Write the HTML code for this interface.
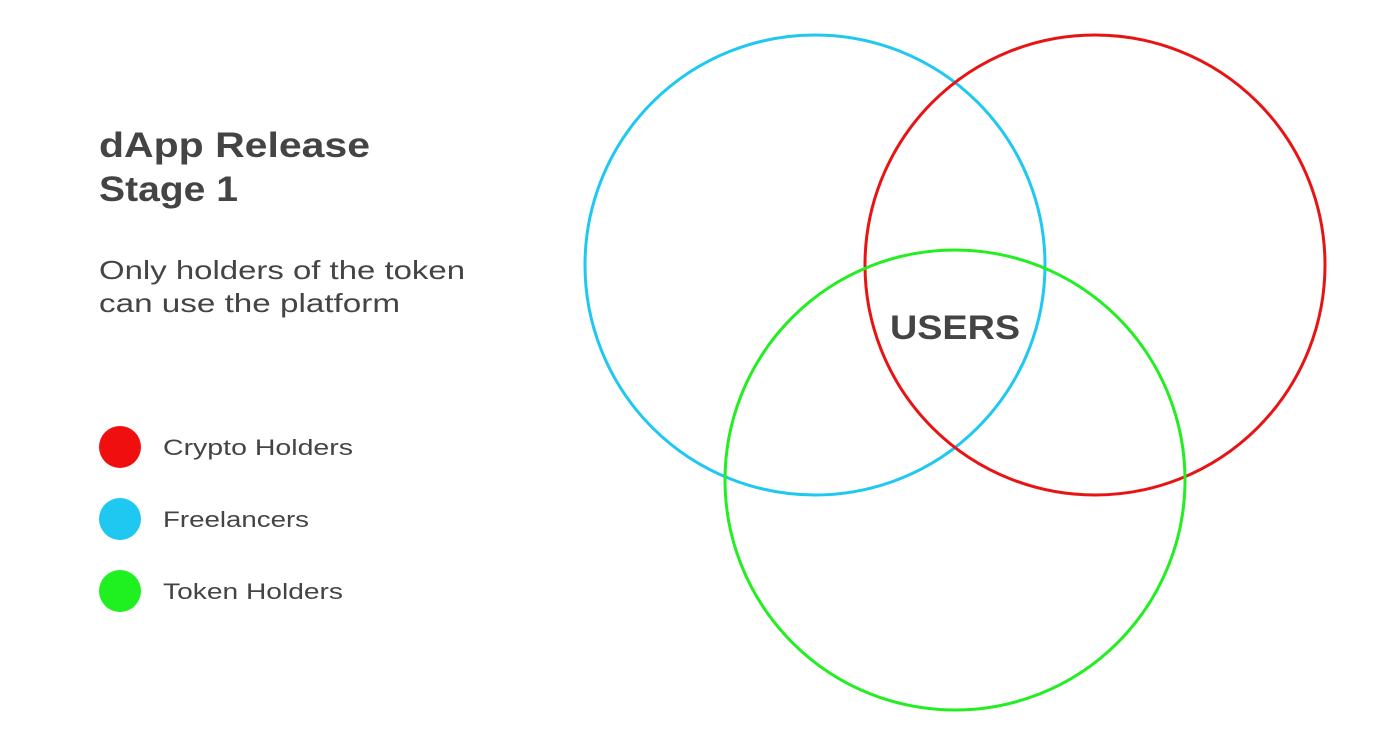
<!DOCTYPE html>
<html><head><meta charset="utf-8"><style>
html,body{margin:0;padding:0;background:#fff;}
svg{display:block}
text{font-family:"Liberation Sans",sans-serif;}
</style></head><body>
<svg width="1400" height="733" viewBox="0 0 1400 733" xmlns="http://www.w3.org/2000/svg">
<rect width="1400" height="733" fill="#fff"/>
<text x="99" y="157" font-size="35" font-weight="bold" fill="#444" textLength="271" lengthAdjust="spacingAndGlyphs">dApp Release</text>
<text x="99" y="201" font-size="35" font-weight="bold" fill="#444" textLength="139" lengthAdjust="spacingAndGlyphs">Stage 1</text>
<text x="99" y="279" font-size="26" fill="#444" textLength="366" lengthAdjust="spacingAndGlyphs">Only holders of the token</text>
<text x="99" y="312" font-size="26" fill="#444" textLength="301" lengthAdjust="spacingAndGlyphs">can use the platform</text>
<circle cx="120" cy="447" r="21" fill="#f00f0f"/>
<circle cx="120" cy="519" r="21" fill="#1ec8f0"/>
<circle cx="120" cy="591" r="21" fill="#1ff01f"/>
<text x="163" y="455" font-size="22" fill="#444" textLength="190" lengthAdjust="spacingAndGlyphs">Crypto Holders</text>
<text x="163" y="527" font-size="22" fill="#444" textLength="146" lengthAdjust="spacingAndGlyphs">Freelancers</text>
<text x="163" y="599" font-size="22" fill="#444" textLength="180" lengthAdjust="spacingAndGlyphs">Token Holders</text>
<g fill="none" stroke-width="3">
<circle cx="815" cy="265" r="230" stroke="#1ec8f0"/>
<circle cx="1095" cy="265" r="230" stroke="#e81414"/>
<circle cx="955" cy="480" r="230" stroke="#22ee22"/>
</g>
<text x="890" y="339" font-size="34" font-weight="bold" fill="#444" textLength="130" lengthAdjust="spacingAndGlyphs">USERS</text>
</svg>
</body></html>
